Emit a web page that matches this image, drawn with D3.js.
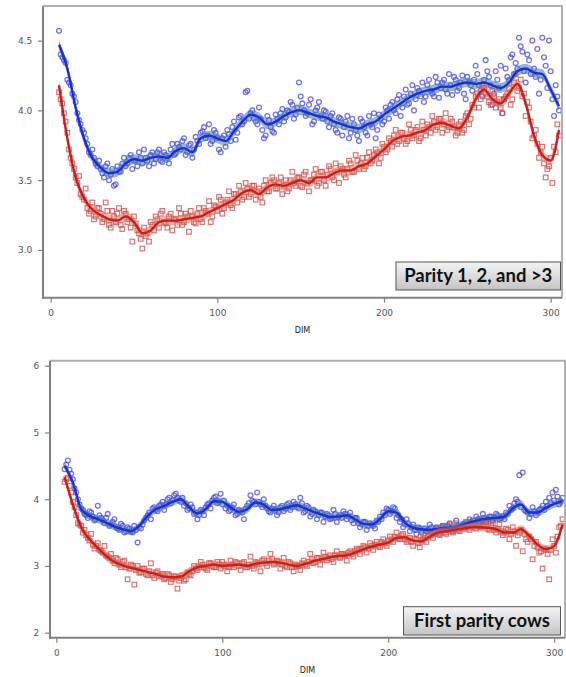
<!DOCTYPE html>
<html><head><meta charset="utf-8">
<script src="https://cdn.jsdelivr.net/npm/d3@7"></script>
<style>body{margin:0;background:#fff}svg{display:block}</style>
</head><body>
<svg id="c" width="566" height="677"></svg>
<script>
// ---------- DATA ----------
// odd-day observations start at DIM 5, even-day observations start at DIM 6, both every 2 days
const oddStart = 5, evenStart = 6, ptStep = 2;
const smoothStart = 5, smoothStep = 5;
const topBluePts = [4.57,4.38,4.34,4.20,4.12,4.06,3.93,3.86,3.80,3.70,3.72,3.62,3.64,3.55,3.60,3.50,3.58,3.47,3.56,3.62,3.60,3.66,3.58,3.64,3.70,3.62,3.66,3.60,3.70,3.65,3.72,3.63,3.68,3.62,3.76,3.69,3.74,3.78,3.68,3.75,3.66,3.81,3.76,3.85,3.80,3.90,3.78,3.84,3.72,3.80,3.74,3.83,3.88,3.79,3.95,3.90,4.13,3.94,4.00,3.92,4.02,3.86,3.82,3.93,3.85,3.97,3.90,4.01,3.95,3.99,4.04,3.97,4.20,4.05,3.96,4.04,3.90,4.00,4.06,3.94,3.99,3.88,3.98,3.86,3.95,3.82,3.92,3.80,3.94,3.86,3.78,3.92,3.84,3.96,3.88,3.80,3.97,3.90,4.02,3.94,4.06,3.98,4.11,4.02,4.15,4.05,4.18,4.08,4.14,4.20,4.10,4.22,4.12,4.24,4.09,4.20,4.15,4.26,4.11,4.22,4.16,4.25,4.08,4.20,4.14,4.32,4.18,4.10,4.36,4.24,4.04,4.28,4.16,3.98,4.30,4.22,4.40,4.34,4.52,4.42,4.20,4.36,4.50,4.24,4.12,4.52,4.32,4.50,4.08,4.18,4.00];
const topBluePtsEven = [4.40,4.36,4.22,4.18,4.10,3.98,3.90,3.84,3.76,3.68, 3.66,3.60,3.58,3.52,3.62,3.54,3.46,3.60,3.56,3.66, 3.62,3.68,3.64,3.60,3.66,3.72,3.64,3.68,3.62,3.70, 3.64,3.70,3.66,3.72,3.68,3.76,3.72,3.80,3.70,3.76, 3.72,3.78,3.84,3.88,3.82,3.76,3.86,3.80,3.70,3.82, 3.86,3.78,3.92,3.84,3.96,3.92,4.14,3.98,3.94,3.90, 3.94,3.80,3.96,3.88,3.84,3.94,3.98,3.92,4.00,4.06, 3.94,4.02,4.10,4.00,3.98,4.08,3.92,4.02,3.96,4.00, 3.92,3.96,3.90,3.84,3.94,3.88,3.96,3.84,3.90,3.82, 3.94,3.88,3.82,3.90,3.98,3.86,3.94,3.92,4.00,4.04, 4.00,4.08,3.96,4.10,4.04,4.12,4.00,4.16,4.10,4.06, 4.18,4.14,4.10,4.20,4.16,4.22,4.12,4.18,4.24,4.14, 4.20,4.12,4.24,4.18,4.22,4.26,4.14,4.22,4.28,4.18, 4.12,4.22,4.32,4.08,4.24,4.38,4.26,4.30,4.46,4.28, 4.40,4.26,4.30,4.44,4.22,4.38,4.16,4.28,3.96,4.10];
const topRedPts = [4.13,4.05,3.92,3.72,3.62,3.52,3.53,3.38,3.44,3.26,3.34,3.24,3.30,3.20,3.34,3.18,3.28,3.20,3.30,3.15,3.26,3.22,3.06,3.19,3.12,3.01,3.10,3.06,3.18,3.24,3.16,3.28,3.19,3.24,3.14,3.22,3.30,3.18,3.26,3.13,3.24,3.19,3.30,3.20,3.28,3.35,3.24,3.31,3.38,3.26,3.34,3.42,3.30,3.40,3.46,3.36,3.48,3.38,3.46,3.36,3.44,3.34,3.50,3.42,3.52,3.44,3.48,3.40,3.50,3.44,3.56,3.46,3.52,3.45,3.56,3.42,3.50,3.58,3.48,3.56,3.46,3.60,3.52,3.62,3.48,3.58,3.52,3.64,3.56,3.68,3.58,3.66,3.60,3.70,3.64,3.72,3.62,3.76,3.70,3.80,3.74,3.86,3.78,3.84,3.76,3.90,3.80,3.86,3.78,3.92,3.82,3.88,3.96,3.86,3.94,3.84,3.98,3.88,3.92,3.82,3.90,3.84,3.96,3.90,4.04,4.10,4.02,4.18,4.12,4.06,4.14,4.02,4.08,3.98,4.10,4.16,4.08,4.26,4.16,4.10,3.96,4.02,3.80,3.86,3.66,3.74,3.52,3.60,3.48,3.70,3.82];
const topRedPtsEven = [4.08,3.98,3.84,3.66,3.58,3.48,3.40,3.36,3.30,3.28, 3.22,3.30,3.26,3.22,3.28,3.16,3.24,3.26,3.18,3.28, 3.20,3.16,3.24,3.14,3.08,3.16,3.12,3.20,3.14,3.22, 3.26,3.20,3.16,3.26,3.22,3.18,3.26,3.20,3.24,3.28, 3.20,3.26,3.22,3.30,3.26,3.20,3.32,3.28,3.36,3.30, 3.36,3.32,3.40,3.34,3.42,3.38,3.44,3.40,3.46,3.42, 3.38,3.46,3.42,3.48,3.50,3.44,3.52,3.46,3.42,3.50, 3.48,3.52,3.46,3.54,3.48,3.50,3.54,3.46,3.56,3.50, 3.54,3.58,3.50,3.56,3.60,3.54,3.58,3.62,3.56,3.64, 3.62,3.58,3.66,3.62,3.68,3.70,3.66,3.74,3.72,3.78, 3.82,3.76,3.84,3.80,3.78,3.86,3.82,3.88,3.80,3.86, 3.90,3.84,3.92,3.88,3.94,3.90,3.86,3.94,3.88,3.84, 3.92,3.86,3.98,3.94,4.02,4.12,4.08,4.16,4.10,4.04, 4.10,4.06,4.02,4.08,4.12,4.04,4.20,4.14,4.22,4.12, 4.06,3.92,3.82,3.76,3.70,3.62,3.58,3.66,3.74,3.90];
const botBluePts = [4.45,4.58,4.38,4.16,4.00,3.86,3.78,3.72,3.80,3.68,3.90,3.72,3.64,3.78,3.62,3.70,3.56,3.63,3.50,3.58,3.52,3.60,3.35,3.56,3.68,3.76,3.70,3.88,3.82,3.92,3.84,4.00,3.94,4.06,4.02,3.96,3.90,3.84,3.92,3.78,3.70,3.84,3.76,3.92,3.86,4.02,3.94,4.08,3.98,3.90,3.84,3.92,3.78,3.82,3.70,3.90,4.06,3.96,4.10,3.92,4.00,3.86,3.80,3.90,3.76,3.88,3.82,3.92,3.84,3.96,3.88,4.02,3.80,3.90,3.74,3.84,3.70,3.80,3.66,3.78,3.70,3.84,3.66,3.76,3.82,3.70,3.80,3.64,3.72,3.58,3.66,3.54,3.64,3.60,3.68,3.74,3.80,3.86,3.78,3.88,3.72,3.66,3.58,3.70,3.52,3.62,3.48,3.56,3.40,3.52,3.62,3.50,3.58,3.48,3.60,3.54,3.64,3.52,3.68,3.56,3.62,3.58,3.70,3.62,3.74,3.64,3.78,3.66,3.74,3.68,3.78,3.70,3.74,3.80,3.90,3.86,4.00,4.36,4.40,3.82,3.72,3.88,3.76,3.84,3.90,3.96,4.02,4.10,4.14,3.92,4.02];
const botBluePtsEven = [4.52,4.44,4.30,4.10,3.92,3.84,3.76,3.82,3.74,3.70, 3.76,3.68,3.72,3.60,3.66,3.58,3.54,3.60,3.52,3.56, 3.50,3.54,3.58,3.62,3.72,3.80,3.86,3.84,3.90,3.96, 3.92,4.02,3.98,4.08,3.98,4.02,3.94,3.86,3.88,3.80, 3.76,3.82,3.88,3.94,3.98,4.04,3.96,3.92,3.86,3.82, 3.88,3.76,3.84,3.80,3.86,3.94,3.98,3.92,3.96,3.88, 3.90,3.82,3.86,3.84,3.80,3.90,3.86,3.94,3.88,3.92, 3.86,3.94,3.82,3.88,3.78,3.82,3.76,3.80,3.74,3.76, 3.72,3.78,3.74,3.72,3.78,3.74,3.68,3.72,3.64,3.62, 3.66,3.60,3.62,3.56,3.66,3.70,3.76,3.84,3.82,3.86, 3.76,3.70,3.62,3.64,3.58,3.54,3.58,3.50,3.56,3.54, 3.58,3.54,3.52,3.58,3.56,3.60,3.56,3.54,3.60,3.58, 3.64,3.60,3.66,3.64,3.70,3.68,3.72,3.70,3.74,3.72, 3.76,3.72,3.70,3.78,3.84,3.94,3.96,3.88,3.84,3.80, 3.78,3.82,3.80,3.86,3.84,3.90,3.94,3.98,4.04,3.96];
const botRedPts = [4.26,4.32,4.10,3.88,3.64,3.60,3.54,3.42,3.48,3.26,3.34,3.22,3.30,3.14,3.18,3.04,3.10,2.98,3.08,2.80,3.02,2.72,3.00,2.90,2.96,2.86,3.04,2.82,2.92,2.86,2.80,2.88,2.76,2.84,2.66,2.82,2.78,2.90,2.86,3.00,2.94,3.06,2.98,2.94,3.04,2.98,3.06,2.96,3.02,2.92,3.08,2.98,3.04,2.94,3.06,2.98,3.14,2.96,3.04,2.92,3.10,3.00,3.18,3.02,3.08,2.96,3.12,2.98,3.04,2.92,3.00,2.94,3.08,3.00,3.18,3.04,3.12,3.02,3.20,3.08,3.16,3.06,3.22,3.12,3.18,3.08,3.22,3.14,3.26,3.18,3.30,3.20,3.34,3.24,3.36,3.28,3.40,3.30,3.44,3.36,3.50,3.40,3.48,3.36,3.42,3.30,3.40,3.28,3.46,3.36,3.52,3.42,3.56,3.46,3.60,3.48,3.62,3.50,3.64,3.52,3.60,3.66,3.54,3.68,3.56,3.70,3.60,3.66,3.54,3.64,3.50,3.62,3.46,3.56,3.40,3.58,3.30,3.50,3.22,3.40,3.44,3.10,3.36,3.20,2.96,3.24,2.80,3.40,3.20,3.58,3.70];
const botRedPtsEven = [4.30,4.20,3.96,3.76,3.62,3.50,3.46,3.38,3.32,3.30, 3.24,3.20,3.16,3.12,3.08,3.12,3.02,3.06,2.98,2.96, 3.00,2.94,2.90,2.96,2.88,2.92,2.86,2.90,2.84,2.88, 2.82,2.86,2.80,2.84,2.78,2.86,2.80,2.88,2.92,2.96, 2.98,3.02,2.96,3.04,3.00,2.98,3.02,3.06,3.00,2.98, 3.02,3.06,3.00,3.04,2.98,3.02,3.00,3.06,3.02,3.08, 3.04,3.08,3.10,3.04,3.06,3.02,3.00,3.06,2.98,3.02, 3.00,3.04,3.02,3.06,3.10,3.06,3.12,3.10,3.14,3.12, 3.10,3.16,3.14,3.18,3.16,3.20,3.18,3.22,3.24,3.26, 3.28,3.26,3.30,3.32,3.30,3.36,3.34,3.38,3.40,3.44, 3.42,3.46,3.40,3.38,3.36,3.40,3.34,3.38,3.42,3.44, 3.46,3.48,3.50,3.52,3.50,3.54,3.52,3.56,3.54,3.58, 3.56,3.60,3.58,3.62,3.60,3.58,3.62,3.56,3.60,3.54, 3.56,3.52,3.50,3.54,3.48,3.52,3.46,3.54,3.48,3.36, 3.40,3.30,3.28,3.22,3.26,3.18,3.24,3.30,3.44,3.60];
const topBlueFit = [4.47,4.30,4.02,3.80,3.66,3.59,3.55,3.56,3.62,3.65,3.64,3.66,3.67,3.66,3.71,3.73,3.70,3.80,3.82,3.80,3.78,3.85,3.92,3.97,3.95,3.90,3.92,3.96,3.99,4.00,3.98,3.96,3.95,3.92,3.90,3.88,3.87,3.90,3.92,3.97,4.01,4.05,4.09,4.12,4.14,4.15,4.17,4.17,4.19,4.20,4.19,4.20,4.18,4.16,4.20,4.28,4.30,4.27,4.26,4.15,4.03];
const topRedFit = [4.18,3.80,3.52,3.37,3.29,3.25,3.22,3.21,3.24,3.20,3.12,3.14,3.20,3.21,3.21,3.22,3.23,3.24,3.27,3.30,3.33,3.36,3.41,3.43,3.40,3.45,3.47,3.46,3.48,3.50,3.48,3.52,3.52,3.55,3.57,3.57,3.60,3.62,3.67,3.72,3.78,3.81,3.82,3.84,3.86,3.90,3.91,3.89,3.87,3.95,4.08,4.15,4.08,4.05,4.12,4.19,4.05,3.82,3.68,3.64,3.86];
const botBlueFit = [4.50,4.25,3.85,3.75,3.70,3.65,3.59,3.55,3.52,3.60,3.75,3.85,3.90,3.96,4.00,3.88,3.79,3.85,3.97,3.96,3.88,3.81,3.85,3.95,3.92,3.84,3.85,3.88,3.91,3.86,3.81,3.77,3.73,3.74,3.76,3.70,3.63,3.62,3.70,3.82,3.80,3.65,3.57,3.55,3.54,3.56,3.57,3.58,3.62,3.66,3.69,3.71,3.72,3.74,3.86,3.92,3.80,3.80,3.87,3.93,3.97];
const botRedFit = [4.33,3.92,3.58,3.40,3.27,3.15,3.06,3.01,2.97,2.94,2.91,2.88,2.84,2.83,2.84,2.92,2.98,3.00,3.02,3.00,3.01,3.02,3.00,3.03,3.05,3.06,3.05,3.02,3.00,3.03,3.07,3.10,3.13,3.15,3.16,3.20,3.25,3.29,3.32,3.35,3.42,3.43,3.38,3.37,3.44,3.50,3.52,3.54,3.56,3.58,3.58,3.57,3.55,3.50,3.50,3.55,3.45,3.32,3.25,3.30,3.62];
const ciHalf = {topBlue:0.035, topRed:0.035, botBlue:0.06, botRed:0.06};
const xTicks = [0,100,200,300];
const topYTicks = [3.0,3.5,4.0,4.5];
const botYTicks = [2,3,4,5,6];
const panelLabels = ["Parity 1, 2, and >3", "First parity cows"];
const xTitle = "DIM";

// ---------- DRAW ----------
const svg = d3.select("#c");
const defs = svg.append("defs");
const grad = defs.append("linearGradient").attr("id","boxg").attr("x1",0).attr("y1",0).attr("x2",0).attr("y2",1);
grad.append("stop").attr("offset","0%").attr("stop-color","#f4f4f4");
grad.append("stop").attr("offset","100%").attr("stop-color","#c4c4c4");

const toPts = (arr, start, step) => arr.map((v,i)=>({d:start+i*step, v}));

function panel(cfg){
  const x = d3.scaleLinear().domain(cfg.xd).range([cfg.L, cfg.R]);
  const y = d3.scaleLinear().domain(cfg.yd).range([cfg.B, cfg.T]);
  const g = svg.append("g");
  const cid = "clip"+cfg.id;
  defs.append("clipPath").attr("id",cid).append("rect")
    .attr("x",cfg.L+1).attr("y",cfg.T+1).attr("width",cfg.R-cfg.L-2).attr("height",cfg.B-cfg.T-2);
  g.append("path").attr("d",`M${cfg.L},${cfg.T}H${cfg.R}V${cfg.B}`)
    .attr("fill","none").attr("stroke","#b0b0b0").attr("stroke-width",2);
  const plot = g.append("g").attr("clip-path",`url(#${cid})`);

  cfg.series.forEach(s=>{
    const pts = toPts(s.pts, oddStart, ptStep).concat(toPts(s.ptsEven, evenStart, ptStep));
    if(s.shape==="circle"){
      plot.append("g").selectAll("circle").data(pts).join("circle")
        .attr("cx",d=>x(d.d)).attr("cy",d=>y(d.v)).attr("r",2.4)
        .attr("fill","none").attr("stroke",s.ptColor).attr("stroke-width",1.3);
    } else {
      plot.append("g").selectAll("rect").data(pts).join("rect")
        .attr("x",d=>x(d.d)-2.3).attr("y",d=>y(d.v)-2.3).attr("width",4.6).attr("height",4.6)
        .attr("fill","none").attr("stroke",s.ptColor).attr("stroke-width",1.2);
    }
  });
  cfg.series.forEach(s=>{
    const fit = toPts(s.fit, smoothStart, smoothStep);
    const area = d3.area().x(d=>x(d.d)).y0(d=>y(d.v-s.ci)).y1(d=>y(d.v+s.ci)).curve(d3.curveMonotoneX);
    plot.append("path").datum(fit).attr("d",area).attr("fill",s.bandColor);
    const line = d3.line().x(d=>x(d.d)).y(d=>y(d.v)).curve(d3.curveMonotoneX);
    plot.append("path").datum(fit).attr("d",line).attr("fill","none")
      .attr("stroke",s.lineColor).attr("stroke-width",2.4);
  });

  const ax = g.append("g").attr("transform",`translate(0,${cfg.B})`)
    .call(d3.axisBottom(x).tickValues(xTicks).tickSize(5).tickSizeOuter(0).tickFormat(d3.format("d")));
  const ay = g.append("g").attr("transform",`translate(${cfg.L},0)`)
    .call(d3.axisLeft(y).tickValues(cfg.yTicks).tickSize(5).tickSizeOuter(0).tickFormat(cfg.yFmt));
  [ax,ay].forEach(a=>{
    a.select(".domain").attr("stroke","#808080").attr("stroke-width",2);
    a.selectAll(".tick line").attr("stroke","#808080").attr("stroke-width",1.2);
    a.selectAll(".tick text").attr("fill","#555").attr("font-size",9).attr("font-family","DejaVu Sans, sans-serif");
  });
  ax.select(".domain").attr("d",`M${cfg.L-1},0H${cfg.R}`);
  ay.select(".domain").attr("d",`M0,${cfg.T}V${cfg.B+1}`);
  ax.selectAll(".tick text").attr("dy","1.15em");
  ay.selectAll(".tick text").attr("dx","-0.3em");

  g.append("text").attr("x",(cfg.L+cfg.R)/2).attr("y",cfg.titleY).attr("text-anchor","middle")
    .attr("font-size",8).attr("font-family","DejaVu Sans, sans-serif").attr("fill","#222").text(xTitle);

  const bx = g.append("g");
  bx.append("rect").attr("x",cfg.box[0]).attr("y",cfg.box[1]).attr("width",cfg.box[2]).attr("height",cfg.box[3])
    .attr("fill","url(#boxg)").attr("stroke","#555").attr("stroke-width",1);
  bx.append("text").attr("x",cfg.box[0]+cfg.box[2]/2).attr("y",cfg.box[1]+cfg.box[3]/2+6.3)
    .attr("text-anchor","middle").attr("font-family","Lato, 'Open Sans', sans-serif").attr("font-weight","bold")
    .attr("font-size",18.5).attr("fill","#111").text(cfg.label);
}

panel({id:1, L:43, R:562, T:6, B:297.7, xd:[-4.6,306.8], yd:[2.658,4.748],
  yTicks:topYTicks, yFmt:d3.format(".1f"), titleY:333, label:panelLabels[0],
  box:[396,262,164.5,28],
  series:[
    {pts:topBluePts, ptsEven:topBluePtsEven, fit:topBlueFit, ci:ciHalf.topBlue, shape:"circle", ptColor:"rgba(70,70,225,0.75)", lineColor:"#1e2ed6", bandColor:"rgba(70,120,170,0.55)"},
    {pts:topRedPts, ptsEven:topRedPtsEven, fit:topRedFit, ci:ciHalf.topRed, shape:"square", ptColor:"rgba(205,70,70,0.75)", lineColor:"#c81e1e", bandColor:"rgba(220,110,90,0.5)"}
  ]});
panel({id:2, L:50, R:565, T:360.7, B:637.7, xd:[-3.8,306.5], yd:[1.925,6.075],
  yTicks:botYTicks, yFmt:d3.format("d"), titleY:673, label:panelLabels[1],
  box:[403.5,606.7,157,28.3],
  series:[
    {pts:botBluePts, ptsEven:botBluePtsEven, fit:botBlueFit, ci:ciHalf.botBlue, shape:"circle", ptColor:"rgba(70,70,225,0.75)", lineColor:"#1e2ed6", bandColor:"rgba(70,120,170,0.55)"},
    {pts:botRedPts, ptsEven:botRedPtsEven, fit:botRedFit, ci:ciHalf.botRed, shape:"square", ptColor:"rgba(205,70,70,0.75)", lineColor:"#c81e1e", bandColor:"rgba(220,110,90,0.5)"}
  ]});
</script>
</body></html>
